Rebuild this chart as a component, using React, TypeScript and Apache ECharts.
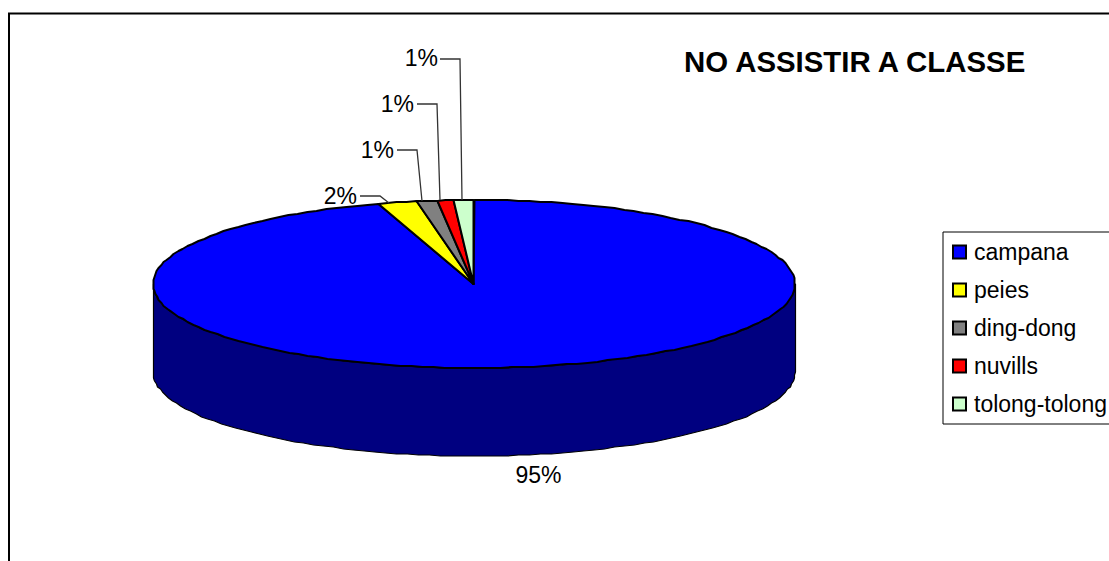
import React, { useEffect, useRef } from "react";
import * as echarts from "echarts";

const titleText = "NO ASSISTIR A CLASSE";
const sliceNames = ["campana", "peies", "ding-dong", "nuvills", "tolong-tolong"];
const sliceValues = [95.17, 1.94, 1.1, 0.75, 1.04];
const sliceColors = ["#0000ff", "#ffff00", "#808080", "#ff0000", "#ccffcc"];
const wallColors = ["#000080", "#808000", "#404040", "#800000", "#668066"];

const PIE = { cx: 473.5, cy: 284, rx: 321, ry: 84, depth: 88 };
const FONT = "Liberation Sans, Arial, sans-serif";
// label placement: text anchor, and (for small slices) the leader line's route
const LABELS = [
  { x: 538.5, y: 475, align: "center", leader: null },
  { x: 357, y: 196, align: "right", leader: [[360, 196], [380, 196], [389, 203]] },
  { x: 394, y: 150, align: "right", leader: [[397, 150], [417, 150], [422, 201]] },
  { x: 414, y: 104, align: "right", leader: [[417, 104], [437, 104], [440, 200]] },
  { x: 438, y: 58, align: "right", leader: [[440, 59], [460, 59], [462, 200]] },
];

const total = sliceValues.reduce((a, b) => a + b, 0);
const pt = (deg: number, dy = 0): [number, number] => {
  const t = (deg * Math.PI) / 180;
  return [
    Math.round(PIE.cx + PIE.rx * Math.sin(t)) + 0.5,
    Math.round(PIE.cy - PIE.ry * Math.cos(t) + dy),
  ];
};
const arc = (a: number, b: number, dy = 0) => {
  const out: [number, number][] = [];
  const n = Math.max(2, Math.ceil((b - a) / 2));
  for (let i = 0; i <= n; i++) out.push(pt(a + ((b - a) * i) / n, dy));
  return out;
};

function renderSlice(index: number) {
  return (_params: any, api: any) => {
    const value = api.value(0);
    const before = sliceValues.slice(0, index).reduce((a, b) => a + b, 0);
    const a0 = (before / total) * 360;
    const a1 = a0 + (value / total) * 360;
    const children: any[] = [];

    const wa = Math.max(a0, 90);
    const wb = Math.min(a1, 270);
    if (wb > wa) {
      children.push({
        type: "polygon",
        shape: { points: [...arc(wa, wb), ...arc(wa, wb, PIE.depth).reverse()] },
        style: { fill: wallColors[index], stroke: "#000", lineWidth: 1.2, lineJoin: "round" },
      });
    }
    children.push({
      type: "polygon",
      shape: { points: [[PIE.cx, PIE.cy], ...arc(a0, a1)] },
      style: { fill: sliceColors[index], stroke: "#000", lineWidth: 2, lineJoin: "round" },
    });

    const lab: any = LABELS[index];
    if (lab.leader) {
      children.push({
        type: "polyline",
        shape: { points: lab.leader },
        style: { fill: "none", stroke: "#333", lineWidth: 1.3 },
      });
    }
    children.push({
      type: "text",
      style: {
        text: `${Math.round((value / total) * 100)}%`,
        x: lab.x,
        y: lab.y,
        align: lab.align,
        verticalAlign: "middle",
        fill: "#000",
        font: `23px ${FONT}`,
      },
    });
    return { type: "group", children };
  };
}

export default function App() {
  const ref = useRef<HTMLDivElement>(null);
  useEffect(() => {
    document.body.style.margin = "0";
    document.body.style.background = "#fff";
    const chart = echarts.init(ref.current!, undefined, { renderer: "svg" });
    chart.setOption({
      animation: false,
      backgroundColor: "#fff",
      title: {
        text: titleText,
        left: 684,
        top: 46.5,
        padding: 0,
        textStyle: { fontFamily: FONT, fontSize: 29.4, fontWeight: "bold", color: "#000" },
      },
      legend: {
        orient: "vertical",
        left: 943,
        top: 232,
        padding: [8.5, 14, 8.5, 9],
        itemWidth: 13,
        itemHeight: 13,
        itemGap: 15,
        backgroundColor: "#fff",
        borderColor: "#000",
        borderWidth: 1,
        selectedMode: false,
        data: sliceNames.map((name) => ({ name, icon: "rect" })),
        textStyle: { fontFamily: FONT, fontSize: 23, color: "#000", padding: [0, 0, 0, 3] },
      },
      graphic: [
        {
          type: "polyline",
          shape: { points: [[9, 561], [9, 13.5], [1109, 13.5]] },
          style: { fill: "none", stroke: "#000", lineWidth: 2 },
          z: -1,
        },
      ],
      series: sliceNames.map((name, i) => ({
        type: "custom",
        name,
        coordinateSystem: "none",
        silent: true,
        renderItem: renderSlice(i),
        itemStyle: { color: sliceColors[i], borderColor: "#000", borderWidth: 1.5 },
        data: [[sliceValues[i]]],
        z: 2,
      })),
    });
    return () => chart.dispose();
  }, []);
  return <div ref={ref} style={{ width: 1109, height: 561 }} />;
}
